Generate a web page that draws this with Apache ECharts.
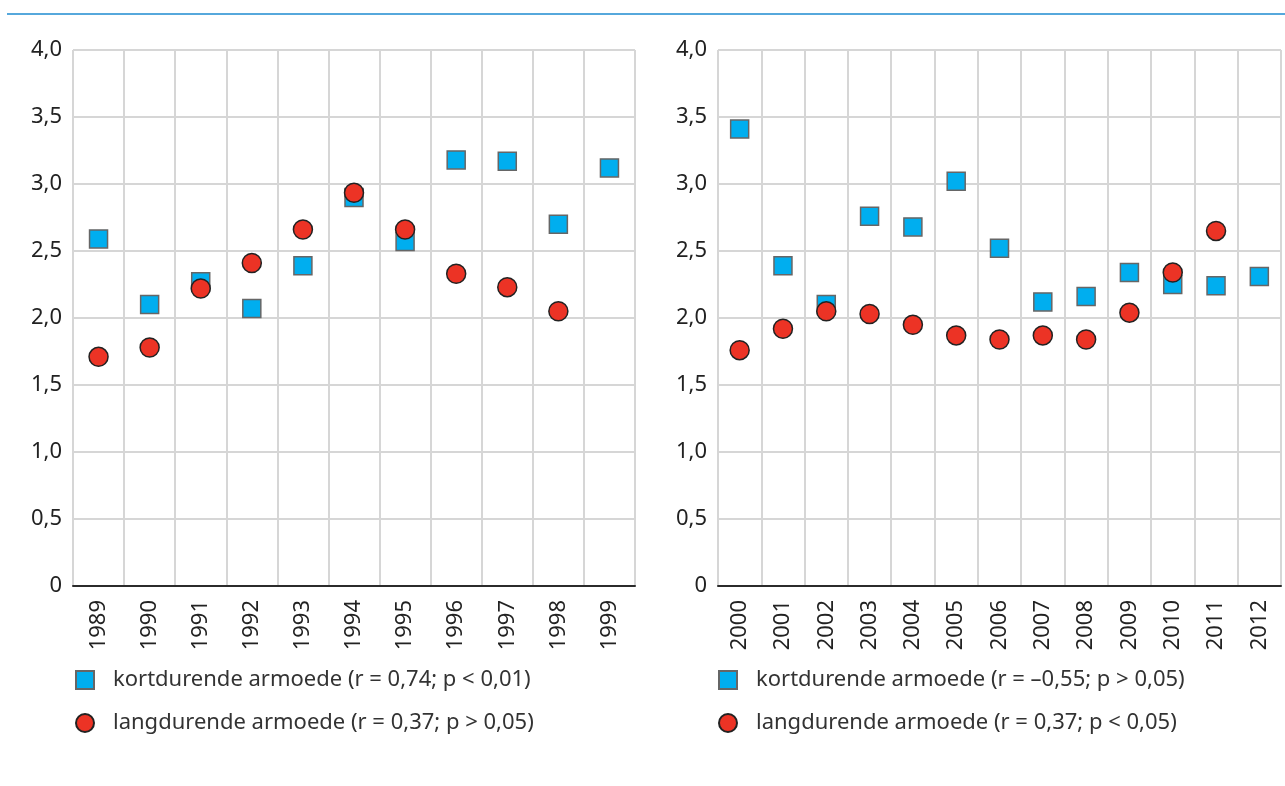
<!DOCTYPE html>
<html>
<head>
<meta charset="utf-8">
<script src="https://cdn.jsdelivr.net/npm/echarts@6/dist/echarts.min.js"></script>
<style>
  html, body { margin: 0; padding: 0; background: #fff; }
  #main { width: 1285px; height: 786px; }
</style>
</head>
<body>
<div id="main"></div>
<script type="text/javascript">
    // jaren
    var yearsLeft = ['1989', '1990', '1991', '1992', '1993', '1994', '1995', '1996', '1997', '1998', '1999'];
    var yearsRight = ['2000', '2001', '2002', '2003', '2004', '2005', '2006', '2007', '2008', '2009', '2010', '2011', '2012'];

    // kortdurende / langdurende armoede
    var kortLeft = [2.59, 2.10, 2.27, 2.07, 2.39, 2.90, 2.57, 3.18, 3.17, 2.70, 3.12];
    var langLeft = [1.71, 1.78, 2.22, 2.41, 2.66, 2.935, 2.66, 2.33, 2.23, 2.05, null];
    var kortRight = [3.41, 2.39, 2.10, 2.76, 2.68, 3.02, 2.52, 2.12, 2.16, 2.34, 2.25, 2.24, 2.31];
    var langRight = [1.76, 1.92, 2.05, 2.03, 1.95, 1.87, 1.84, 1.87, 1.84, 2.04, 2.34, 2.65, null];

    var namesLeft = ['kortdurende armoede (r = 0,74; p < 0,01)', 'langdurende armoede (r = 0,37; p > 0,05)'];
    var namesRight = ['kortdurende armoede (r = \u20130,55; p > 0,05)', 'langdurende armoede (r = 0,37; p < 0,05)'];

    var FONT = 'Noto Sans';
    var blauw = '#00aeef', rood = '#ec3325';

    function xAxis(idx, data) {
        return {
            type: 'category', gridIndex: idx, data: data, boundaryGap: true,
            axisLine: { lineStyle: { color: '#2b2b2b', width: 2 } },
            axisTick: { alignWithLabel: true, length: 7, lineStyle: { color: '#2b2b2b', width: 2 } },
            axisLabel: { rotate: 90, margin: 14, fontSize: 22, color: '#222', fontFamily: FONT },
            splitLine: { show: true, lineStyle: { color: '#d6d6d6', width: 2 } }
        };
    }
    function yAxis(idx) {
        return {
            type: 'value', gridIndex: idx, min: 0, max: 4, interval: 0.5,
            axisLine: { show: false }, axisTick: { show: false },
            axisLabel: {
                margin: 11, fontSize: 22, color: '#222', fontFamily: FONT,
                formatter: function (v) { return v === 0 ? '0' : v.toFixed(1).replace('.', ','); }
            },
            splitLine: { lineStyle: { color: '#d6d6d6', width: 2 } }
        };
    }
    function kort(name, idx, data) {
        return {
            name: name, type: 'scatter', xAxisIndex: idx, yAxisIndex: idx, data: data,
            symbol: 'rect', symbolSize: 18, z: 2,
            itemStyle: { color: blauw, borderColor: '#666', borderWidth: 1.5, opacity: 1 }
        };
    }
    function lang(name, idx, data) {
        return {
            name: name, type: 'scatter', xAxisIndex: idx, yAxisIndex: idx, data: data,
            symbol: 'circle', symbolSize: 19, z: 3,
            itemStyle: { color: rood, borderColor: '#222', borderWidth: 1.5, opacity: 1 }
        };
    }
    function legend(left, pad, names) {
        return {
            orient: 'vertical', left: left, top: 663, itemWidth: 18, itemHeight: 18, itemGap: 19,
            selectedMode: false, data: names,
            textStyle: { fontSize: 22, lineHeight: 24, color: '#333', fontFamily: FONT, padding: [0, 0, 0, pad] }
        };
    }

    var option = {
        animation: false,
        textStyle: { fontFamily: FONT },
        graphic: [{
            type: 'line', shape: { x1: 7, y1: 14, x2: 1285, y2: 14 },
            style: { stroke: '#56a8dc', lineWidth: 2 }
        }],
        legend: [legend(70, 14, namesLeft), legend(713, 14, namesRight)],
        grid: [
            { left: 73, top: 50, width: 562, height: 536 },
            { left: 718, top: 50, width: 563, height: 536 }
        ],
        xAxis: [xAxis(0, yearsLeft), xAxis(1, yearsRight)],
        yAxis: [yAxis(0), yAxis(1)],
        series: [
            kort(namesLeft[0], 0, kortLeft),
            lang(namesLeft[1], 0, langLeft),
            kort(namesRight[0], 1, kortRight),
            lang(namesRight[1], 1, langRight)
        ]
    };

    var chart = echarts.init(document.getElementById('main'));
    chart.setOption(option);
</script>
</body>
</html>
